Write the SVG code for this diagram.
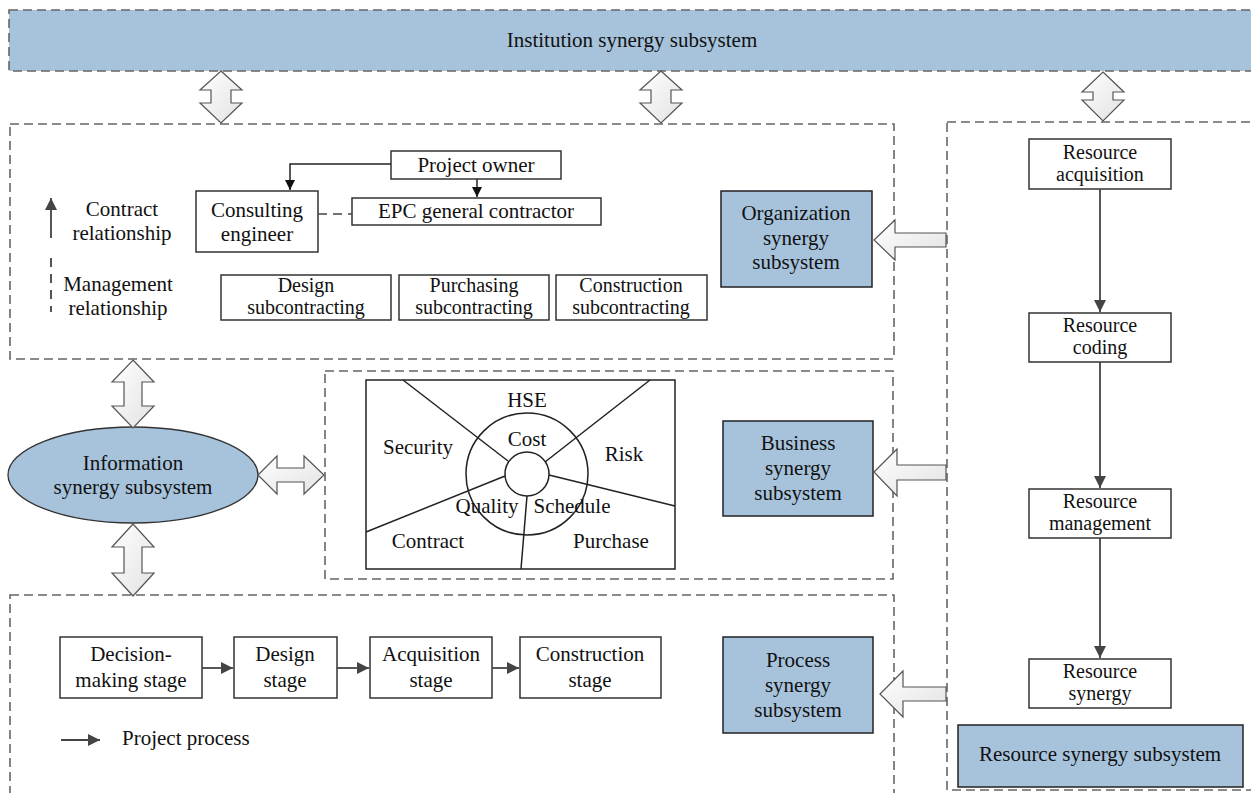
<svg xmlns="http://www.w3.org/2000/svg" width="1251" height="793" viewBox="0 0 1251 793">
<style>
text{font-family:"Liberation Serif","Times New Roman",serif;font-size:21px;fill:#111;text-anchor:middle}
.sm{font-size:20px}
.dash{fill:none;stroke:#666;stroke-width:1.6;stroke-dasharray:9 5}
.box{fill:#fff;stroke:#333;stroke-width:1.5}
.blue{fill:#a7c3dc;stroke:#222;stroke-width:1.5}
.hollow{fill:url(#hg);stroke:#555;stroke-width:1.2;stroke-linejoin:miter}
.ln{fill:none;stroke:#222;stroke-width:1.5}
.gl{fill:none;stroke:#444;stroke-width:1.8}
</style>
<defs>
<linearGradient id="hg" x1="0" y1="0" x2="1" y2="1">
<stop offset="0" stop-color="#ffffff"/><stop offset="1" stop-color="#e2e2e2"/>
</linearGradient>
<marker id="ab" viewBox="0 0 10 10" refX="10" refY="5" markerWidth="10" markerHeight="10" markerUnits="userSpaceOnUse" orient="auto"><path d="M0,0 L10,5 L0,10 Z" fill="#111"/></marker>
<marker id="ag" viewBox="0 0 10 10" refX="10" refY="5" markerWidth="12" markerHeight="12" markerUnits="userSpaceOnUse" orient="auto"><path d="M0,0 L10,5 L0,10 Z" fill="#444"/></marker>
</defs>
<rect width="1251" height="793" fill="#fff"/>

<g id="institution">
<rect x="9" y="10" width="1250" height="61" fill="#a7c3dc" stroke="#666" stroke-width="1.6" stroke-dasharray="9 5"/>
<text x="632" y="47">Institution synergy subsystem</text>
</g>

<g id="org-section">
<rect class="dash" x="10" y="124" width="884" height="235"/>
</g>
<g id="business-section">
<rect class="dash" x="325" y="371" width="568" height="208"/>
</g>
<g id="process-section">
<rect class="dash" x="10" y="595" width="884" height="210"/>
</g>
<g id="resource-section">
<rect class="dash" x="947" y="122" width="310" height="668"/>
</g>

<g id="legend-org">
<line class="gl" x1="51" y1="238" x2="51" y2="198" marker-end="url(#ag)"/>
<line x1="51" y1="258" x2="51" y2="312" stroke="#444" stroke-width="1.8" stroke-dasharray="9 7"/>
<text x="122" y="216">Contract</text>
<text x="122" y="240">relationship</text>
<text x="118" y="291">Management</text>
<text x="118" y="315">relationship</text>
</g>

<g id="project-owner"><rect class="box" x="391" y="151" width="170" height="28"/><text x="476" y="172">Project owner</text></g>
<g id="epc"><rect class="box" x="352" y="198" width="249" height="27"/><text x="476" y="218">EPC general contractor</text></g>
<g id="consulting"><rect class="box" x="196" y="191" width="122" height="61" stroke-width="2"/><text x="257" y="217">Consulting</text><text x="257" y="241">engineer</text></g>
<g id="design-sub"><rect class="box" x="221" y="275" width="170" height="45"/><text class="sm" x="306" y="292">Design</text><text class="sm" x="306" y="314">subcontracting</text></g>
<g id="purchasing-sub"><rect class="box" x="399" y="275" width="150" height="45"/><text class="sm" x="474" y="292">Purchasing</text><text class="sm" x="474" y="314">subcontracting</text></g>
<g id="construction-sub"><rect class="box" x="556" y="275" width="151" height="45"/><text class="sm" x="631" y="292">Construction</text><text class="sm" x="631" y="314">subcontracting</text></g>

<g id="org-synergy"><rect class="blue" x="721" y="191" width="151" height="96"/><text x="796" y="220">Organization</text><text x="796" y="245">synergy</text><text x="796" y="269">subsystem</text></g>
<g id="business-synergy"><rect class="blue" x="723" y="421" width="150" height="95"/><text x="798" y="450">Business</text><text x="798" y="475">synergy</text><text x="798" y="500">subsystem</text></g>
<g id="process-synergy"><rect class="blue" x="723" y="637" width="150" height="96"/><text x="798" y="667">Process</text><text x="798" y="692">synergy</text><text x="798" y="717">subsystem</text></g>

<g id="information">
<ellipse cx="133" cy="475" rx="125" ry="48" fill="#a7c3dc" stroke="#333" stroke-width="1.3"/>
<text x="133" y="470">Information</text>
<text x="133" y="494">synergy subsystem</text>
</g>

<g id="business-wheel">
<rect class="ln" x="366" y="380" width="309" height="189"/>
<circle class="ln" cx="527" cy="474" r="61"/>
<circle class="ln" cx="527" cy="474" r="22"/>
<line class="ln" x1="403" y1="380" x2="508" y2="461"/>
<line class="ln" x1="650" y1="380" x2="545" y2="462"/>
<line class="ln" x1="549" y1="475" x2="675" y2="506"/>
<line class="ln" x1="527" y1="496" x2="521" y2="569"/>
<line class="ln" x1="505" y1="476" x2="366" y2="532"/>
<text x="527" y="407">HSE</text>
<text x="527" y="446">Cost</text>
<text x="418" y="454">Security</text>
<text x="624" y="461">Risk</text>
<text x="487" y="513">Quality</text>
<text x="572" y="513">Schedule</text>
<text x="428" y="548">Contract</text>
<text x="611" y="548">Purchase</text>
</g>

<g id="stage-decision"><rect class="box" x="60" y="637" width="142" height="61"/><text x="131" y="661">Decision-</text><text x="131" y="687">making stage</text></g>
<g id="stage-design"><rect class="box" x="234" y="637" width="103" height="61"/><text x="285" y="661">Design</text><text x="285" y="687">stage</text></g>
<g id="stage-acquisition"><rect class="box" x="370" y="637" width="122" height="61"/><text x="431" y="661">Acquisition</text><text x="431" y="687">stage</text></g>
<g id="stage-construction"><rect class="box" x="520" y="637" width="141" height="61"/><text x="590" y="661">Construction</text><text x="590" y="687">stage</text></g>
<g id="legend-process">
<line class="gl" x1="61" y1="740" x2="100" y2="740" marker-end="url(#ag)"/>
<text x="122" y="745" style="text-anchor:start">Project process</text>
</g>

<g id="res-acquisition"><rect class="box" x="1029" y="139" width="142" height="50"/><text class="sm" x="1100" y="159">Resource</text><text class="sm" x="1100" y="181">acquisition</text></g>
<g id="res-coding"><rect class="box" x="1029" y="313" width="142" height="49"/><text class="sm" x="1100" y="332">Resource</text><text class="sm" x="1100" y="354">coding</text></g>
<g id="res-management"><rect class="box" x="1029" y="489" width="142" height="49"/><text class="sm" x="1100" y="508">Resource</text><text class="sm" x="1100" y="530">management</text></g>
<g id="res-synergy"><rect class="box" x="1029" y="659" width="142" height="49"/><text class="sm" x="1100" y="678">Resource</text><text class="sm" x="1100" y="700">synergy</text></g>
<g id="resource-synergy"><rect class="blue" x="958" y="725" width="285" height="62"/><text x="1100" y="761">Resource synergy subsystem</text></g>

<g id="connectors">
<path class="ln" d="M391,164 H290 V190" marker-end="url(#ab)"/>
<line class="ln" x1="477" y1="179" x2="477" y2="197" marker-end="url(#ab)"/>
<line x1="318" y1="214" x2="352" y2="214" stroke="#444" stroke-width="1.5" stroke-dasharray="9 6"/>
<line class="gl" x1="202" y1="668" x2="233" y2="668" marker-end="url(#ag)"/>
<line class="gl" x1="337" y1="668" x2="369" y2="668" marker-end="url(#ag)"/>
<line class="gl" x1="492" y1="668" x2="519" y2="668" marker-end="url(#ag)"/>
<line class="gl" x1="1100" y1="189" x2="1100" y2="312" marker-end="url(#ag)"/>
<line class="gl" x1="1100" y1="362" x2="1100" y2="488" marker-end="url(#ag)"/>
<line class="gl" x1="1100" y1="538" x2="1100" y2="658" marker-end="url(#ag)"/>
<path class="hollow" d="M221,71 L242,90 L231,90 L231,103 L242,103 L221,123 L200,103 L211,103 L211,90 L200,90 Z"/>
<path class="hollow" d="M661,71 L682,90 L671,90 L671,103 L682,103 L661,123 L640,103 L651,103 L651,90 L640,90 Z"/>
<path class="hollow" d="M1103,72 L1124,92 L1113,92 L1113,100 L1124,100 L1103,121 L1082,100 L1093,100 L1093,92 L1082,92 Z"/>
<path class="hollow" d="M133,360 L154,382 L142,382 L142,406 L154,406 L133,428 L112,406 L124,406 L124,382 L112,382 Z"/>
<path class="hollow" d="M133,524 L154,547 L142,547 L142,573 L154,573 L133,596 L112,573 L124,573 L124,547 L112,547 Z"/>
<path class="hollow" d="M258,475 L277,456 L277,468 L304,468 L304,456 L324,475 L304,494 L304,482 L277,482 L277,494 Z"/>
<path class="hollow" d="M874,240 L895,220 L895,233 L946,233 L946,247 L895,247 L895,260 Z"/>
<path class="hollow" d="M874,472 L897,449 L897,465 L946,465 L946,480 L897,480 L897,496 Z"/>
<path class="hollow" d="M880,694 L903,671 L903,687 L946,687 L946,701 L903,701 L903,717 Z"/>
</g>
</svg>
